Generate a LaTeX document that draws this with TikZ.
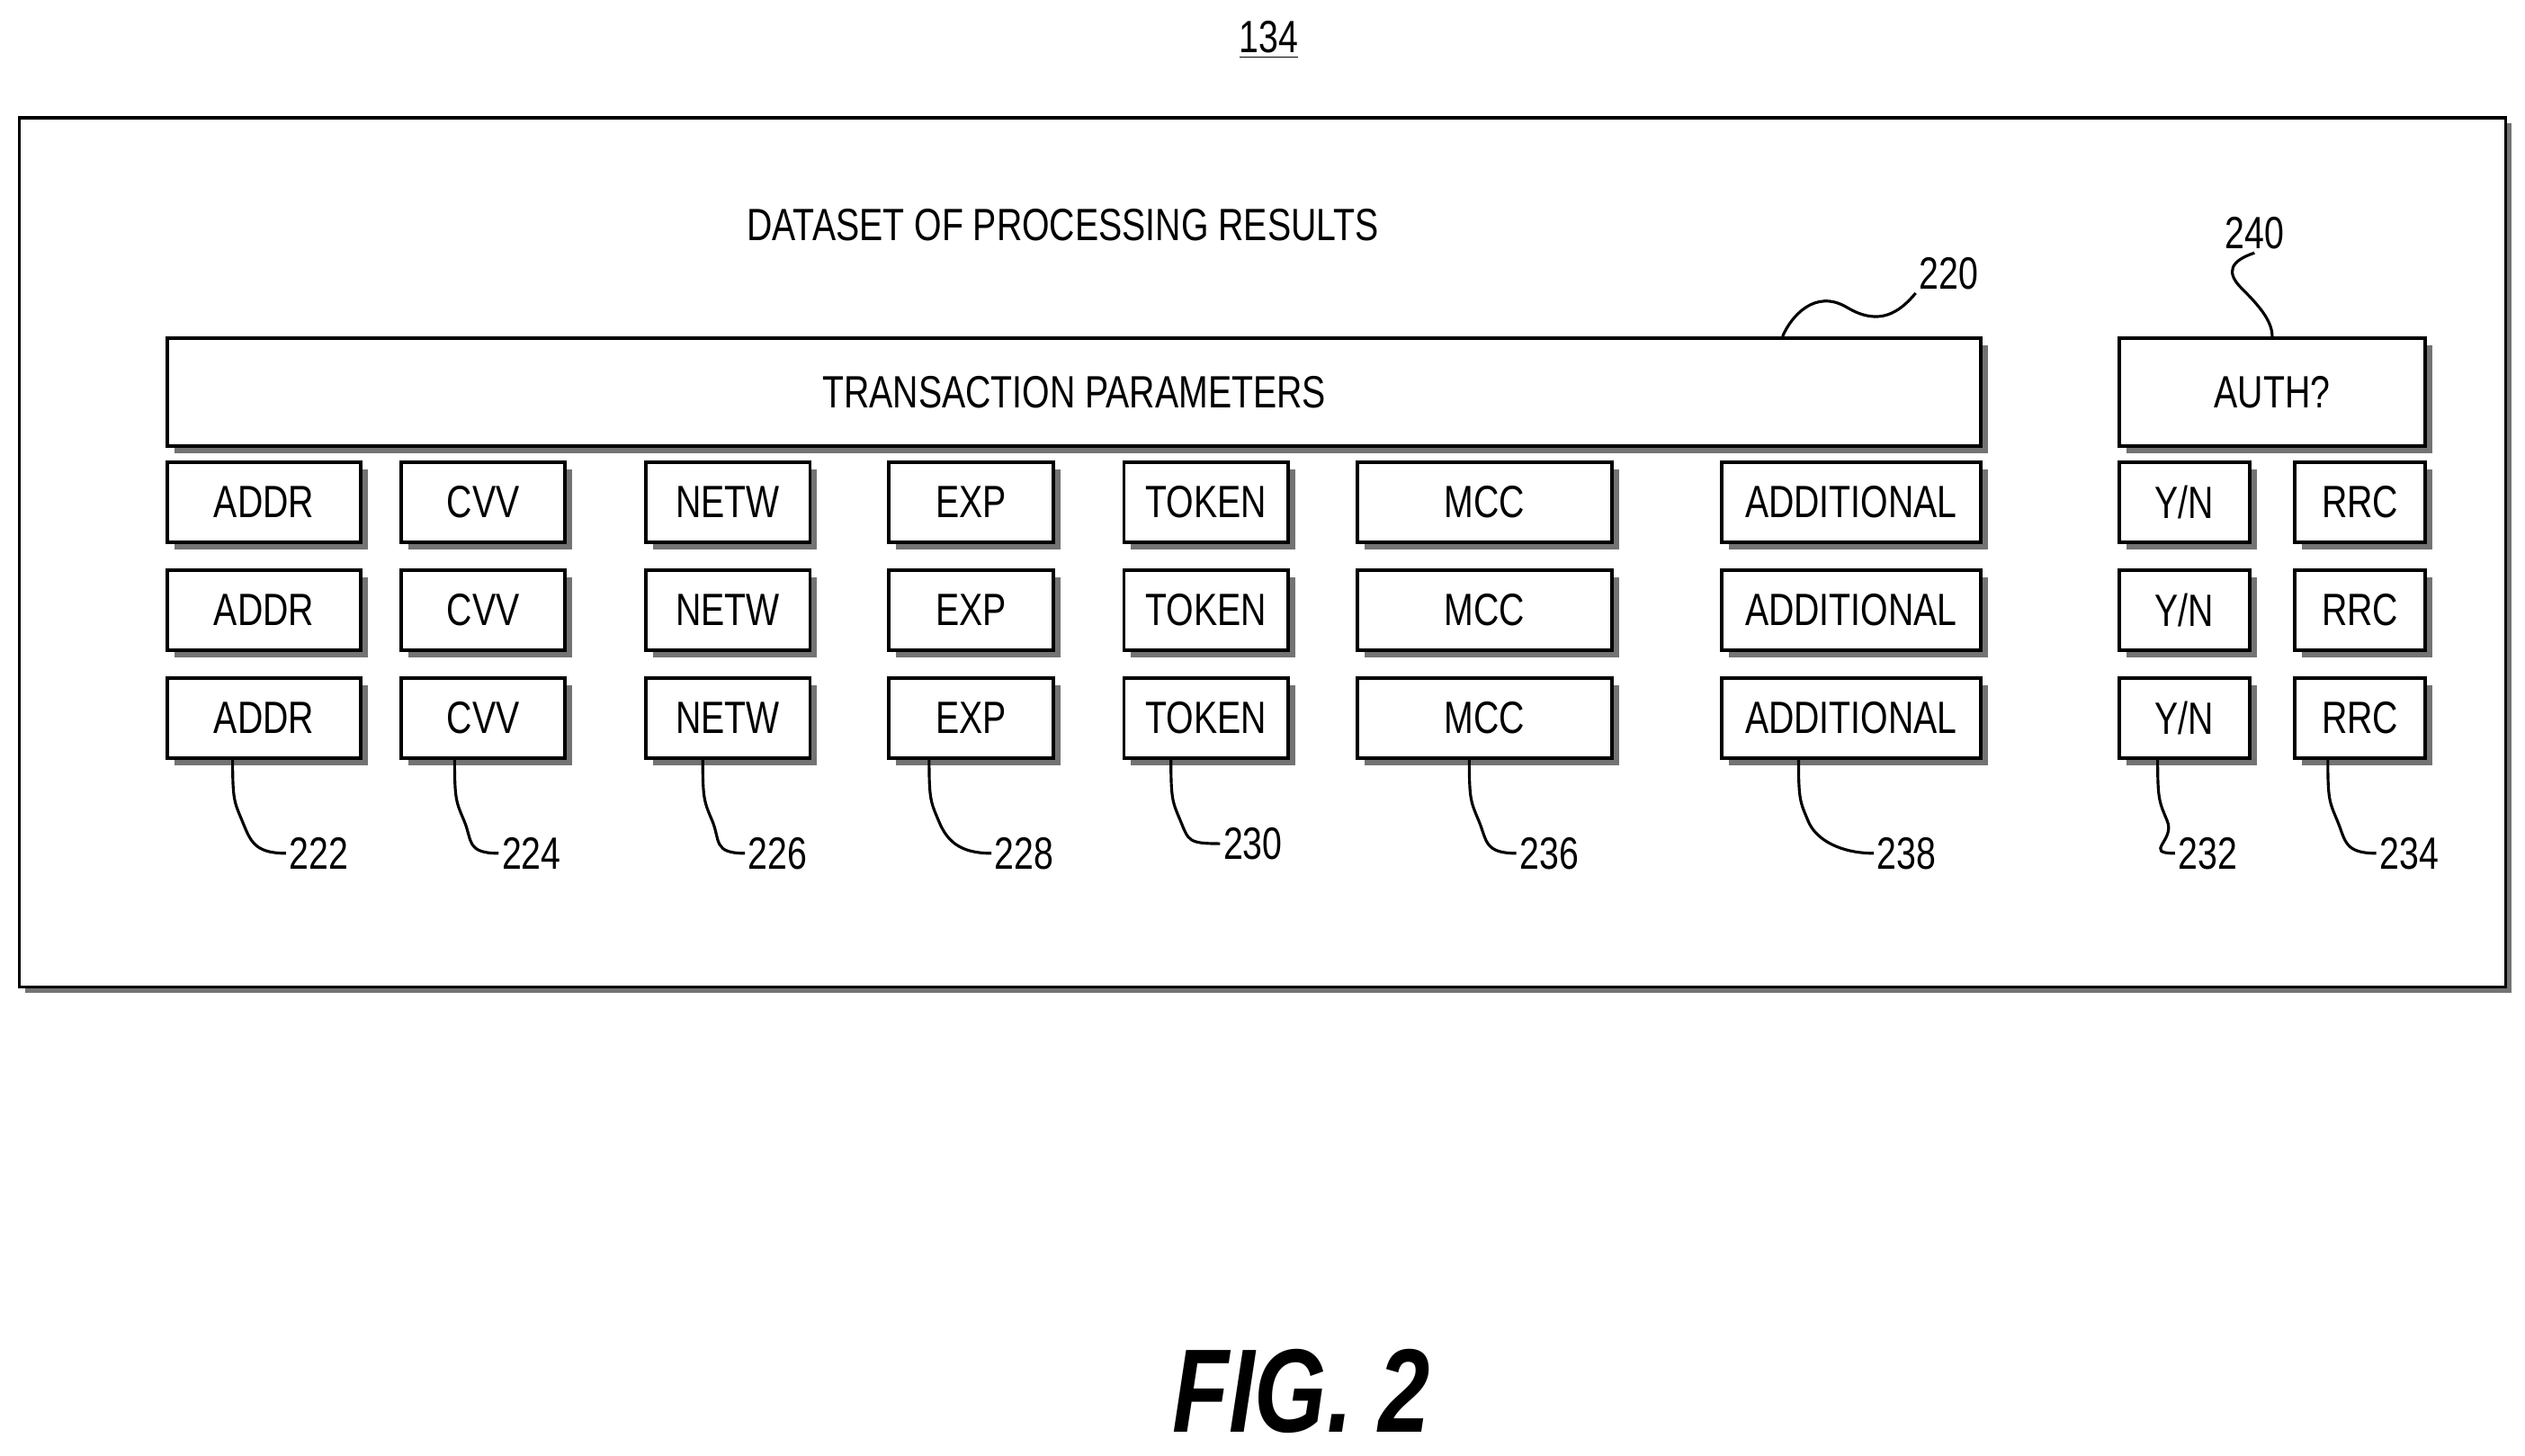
\documentclass[tikz,border=0pt]{standalone}
\usepackage{fontspec}
\setmainfont[FakeStretch=0.78]{Liberation Sans}
\usetikzlibrary{fit,shadows,calc}
\begin{document}
\begin{tikzpicture}[x=0.02cm,y=-0.02cm,
  box/.style={draw,line width=1.2pt,fill=white,inner sep=0pt,
    drop shadow={fill=black!55,opacity=1,shadow xshift=2.5pt,shadow yshift=-2.5pt}},
  txt/.style={font=\fontsize{16}{18}\selectfont},
  lead/.style={line width=1pt},
  num/.style={font=\fontsize{16}{18}\selectfont,inner sep=1pt}]
\useasboundingbox (0,0) rectangle (1568,904);
\node[txt] (n134) at (788,25) {\underline{134}};
\node[draw,line width=1.2pt,fit={(12,73)(1556,613)},inner sep=0pt,
  drop shadow={fill=black!55,opacity=1,shadow xshift=2pt,shadow yshift=-2pt},fill=white] (frame) {};
\node[txt] (title) at (660,140) {DATASET OF PROCESSING RESULTS};
\node[box,fit={(104,210)(1230,277)},label={[txt]center:TRANSACTION PARAMETERS}] (tp) {};
\node[box,fit={(1316,210)(1506,277)},label={[txt]center:AUTH?}] (auth) {};
\foreach \nm/\a/\b/\t in {addr/104/224/ADDR, cvv/249/351/CVV, netw/401/503/NETW, exp/552/654/EXP,
  token/698/800/TOKEN, mcc/843/1001/MCC, add/1069/1230/ADDITIONAL, yn/1316/1397/{Y/N}, rrc/1425/1506/RRC}{
  \foreach \r/\y in {1/287,2/354,3/421}{
    \node[box,fit={(\a,\y)(\b,\y+50)},label={[txt]center:\t}] (\nm\r) {};
  }
}
% bottom labels
\foreach \nm/\f/\lab/\lx/\ly in {addr/0.34/222/198/530, cvv/0.33/224/330/530, netw/0.35/226/483/530,
  exp/0.25/228/636/530, token/0.29/230/778/524, mcc/0.44/236/962/530, add/0.3/238/1184/530,
  yn/0.3/232/1371/530, rrc/0.26/234/1496/530}{
  \node[num] (l\lab) at (\lx,\ly) {\lab};
  \draw[lead] ($(\nm3.south west)!\f!(\nm3.south east)$) .. controls +(0,25) and +(-5,-12) .. +(6,38)
     .. controls +(5,12) and +(-20,0) .. (l\lab.west);
}
\node[num] (l220) at (1210,170) {220};
\draw[lead] ($(tp.north west)!0.89!(tp.north east)$) .. controls +(5,-12) and +(-20,-12) .. +(40,-18)
   .. controls +(20,12) and +(-10,12) .. (l220.south west);
\node[num] (l240) at (1400,145) {240};
\draw[lead] (l240.south) .. controls +(-15,5) and +(-10,-10) .. +(-8,22) .. controls +(10,10) and +(0,-10) .. (auth.north);
\node[font=\fontsize{42}{46}\selectfont\bfseries\itshape] (fig) at (808,864) {FIG. 2};
\end{tikzpicture}
\end{document}
